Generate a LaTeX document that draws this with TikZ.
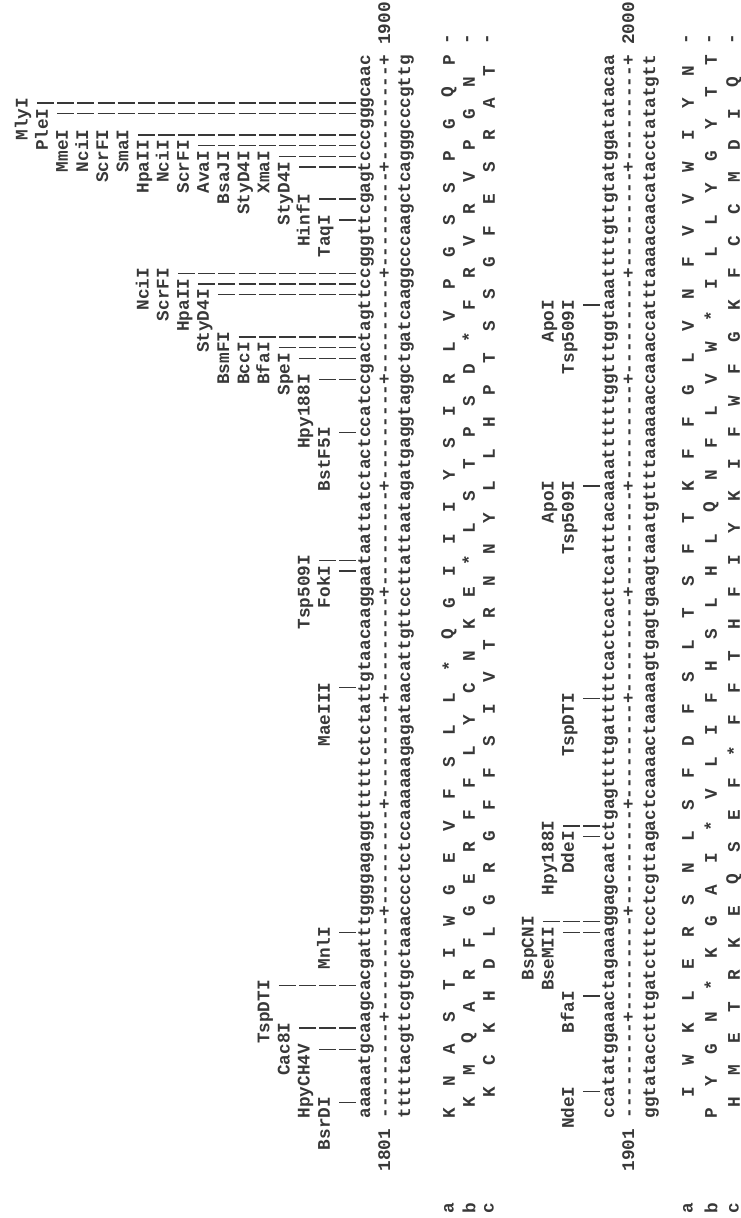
\documentclass[tikz,border=0pt]{standalone}
\usepackage{fontspec}
\newfontfamily\cour{Liberation Mono}[BoldFont={Liberation Mono Bold}]
\def\rdash{\hbox{-}}
\def\rseg{\rdash\rdash\rdash\rdash\rdash\rdash\rdash\rdash\rdash+}
\def\ruler{\rseg\rseg\rseg\rseg\rseg\rseg\rseg\rseg\rseg\rseg}
\begin{document}
\begin{tikzpicture}[x=1pt,y=1pt,
  txt/.style={font=\cour\bfseries\fontsize{17.72}{20}\selectfont, text=black!78, inner sep=0pt, outer sep=0pt, rotate=90},
  seq/.style={txt, anchor=mid west},
  lab/.style={txt, anchor=mid east},
  aa/.style={txt, anchor=center},
  bar/.style={draw=black!78, line width=1.4pt, dash pattern=on 17pt off 3.15pt}]
\useasboundingbox (0,0) rectangle (741,1218);
% ---------------- block 1 (1801-1900) ----------------
\node[seq] (s1top) at (368,{89.055+10.63}) {aaaaatgcaa%
gcacgatttg%
gggagaggtt%
ttttctctat%
tgtaacaagg%
aataattatc%
tactccatcc%
gactagttcc%
gggttcgagt%
cccgggcaac};
\node[seq] (s1rul) at (388,{89.055+10.63}) {\ruler};
\node[seq] (s1bot) at (408,{89.055+10.63}) {tttttacgtt%
cgtgctaaac%
ccctctccaa%
aaaagagata%
acattgttcc%
ttattaatag%
atgaggtagg%
ctgatcaagg%
cccaagctca%
gggcccgttg};
\node[lab] (n1801) at (388,{99.685-10.63}) {1801};
\node[seq] (n1900) at (388,{89.055+10.63*102}) {1900};
\node[aa] (fa1) at (449,{94.37-10.63*8}) {a};
\node[aa] (fb1) at (469,{94.37-10.63*8}) {b};
\node[aa] (fc1) at (489,{94.37-10.63*8}) {c};
\foreach \x [count=\i from 0] in {K,N,A,S,T,I,W,G,E,V,F,S,L,L,*,Q,G,I,I,I,Y,S,I,R,L,V,P,G,S,S,P,G,Q,P}
  \node[aa] (A1-\i) at (449,{94.37+10.63*(1+3*\i)}) {\x};
\foreach \x [count=\i from 0] in {K,M,Q,A,R,F,G,E,R,F,F,L,Y,C,N,K,E,*,L,S,T,P,S,D,*,F,R,V,R,V,P,G,N}
  \node[aa] (B1-\i) at (469,{94.37+10.63*(2+3*\i)}) {\x};
\foreach \x [count=\i from 0] in {K,C,K,H,D,L,G,R,G,F,F,S,I,V,T,R,N,N,Y,L,L,H,P,T,S,S,G,F,E,S,R,A,T}
  \node[aa] (C1-\i) at (489,{94.37+10.63*(3+3*\i)}) {\x};
\node[aa] (A1e) at (449,{94.37+10.63*102}) {-};
\node[aa] (B1e) at (469,{94.37+10.63*102}) {-};
\node[aa] (C1e) at (489,{94.37+10.63*102}) {-};
% enzymes block 1
\foreach \n/\c/\r in {BsrDI/2/2, HpyCH4V/7/3, Cac8I/9/4, TspDTI/13/5, MnlI/18/2, MaeIII/41/2,
   FokI/52/2, Tsp509I/53/3, BstF5I/65/2, Hpy188I/70/3, SpeI/72/4, BfaI/73/5, BccI/73/6,
   BsmFI/74/7, StyD4I/78/8, HpaII/79/9, ScrFI/80/10, NciI/80/11, TaqI/85/2, HinfI/87/3,
   StyD4I/90/4, XmaI/91/5, StyD4I/91/6, BsaJI/91/7, AvaI/91/8, ScrFI/92/9, NciI/92/10,
   HpaII/92/11, SmaI/93/12, ScrFI/93/13, NciI/93/14, MmeI/93/15, PleI/95/16, MlyI/96/17}
  \node[lab] (E1-\c-\r) at ({368-20.15*\r},{99.685+10.63*\c}) {\n};
\foreach \c/\r in {2/1, 7/2, 9/3, 13/4, 18/1, 41/1, 52/1, 53/2, 65/1, 70/2, 72/3, 73/4, 74/6,
   78/7, 79/8, 80/9, 85/1, 87/2, 90/3, 91/4, 92/8, 93/11, 95/15, 96/16}
  \draw[bar] ({368-20.15*\r-8.5},{94.37+10.63*\c}) coordinate (T1-\c) -- (356.35,{94.37+10.63*\c}) coordinate (U1-\c);
% ---------------- block 2 (1901-2000) ----------------
\node[seq] (s2top) at (612,{89.055+10.63}) {ccatatggaa%
actagaaagg%
agcaatctga%
gttttgattt%
ttcactcact%
tcatttacaa%
aattttttgg%
tttggtaaat%
tttgttgtat%
ggatatacaa};
\node[seq] (s2rul) at (632,{89.055+10.63}) {\ruler};
\node[seq] (s2bot) at (653,{89.055+10.63}) {ggtatacctt%
tgatctttcc%
tcgttagact%
caaaactaaa%
aagtgagtga%
agtaaatgtt%
ttaaaaaacc%
aaaccattta%
aaacaacata%
cctatatgtt};
\node[lab] (n1901) at (632,{99.685-10.63}) {1901};
\node[seq] (n2000) at (632,{89.055+10.63*102}) {2000};
\node[aa] (fa2) at (688,{94.37-10.63*8}) {a};
\node[aa] (fb2) at (711,{94.37-10.63*8}) {b};
\node[aa] (fc2) at (734,{94.37-10.63*8}) {c};
\foreach \x [count=\i from 0] in {I,W,K,L,E,R,S,N,L,S,F,D,F,S,L,T,S,F,T,K,F,F,G,L,V,N,F,V,V,W,I,Y,N}
  \node[aa] (A2-\i) at (688,{94.37+10.63*(3+3*\i)}) {\x};
\foreach \x [count=\i from 0] in {P,Y,G,N,*,K,G,A,I,*,V,L,I,F,H,S,L,H,L,Q,N,F,L,V,W,*,I,L,L,Y,G,Y,T,T}
  \node[aa] (B2-\i) at (711,{94.37+10.63*(1+3*\i)}) {\x};
\foreach \x [count=\i from 0] in {H,M,E,T,R,K,E,Q,S,E,F,*,F,F,T,H,F,I,Y,K,I,F,W,F,G,K,F,C,C,M,D,I,Q}
  \node[aa] (C2-\i) at (734,{94.37+10.63*(2+3*\i)}) {\x};
\node[aa] (A2e) at (688,{94.37+10.63*102}) {-};
\node[aa] (B2e) at (711,{94.37+10.63*102}) {-};
\node[aa] (C2e) at (734,{94.37+10.63*102}) {-};
% enzymes block 2
\foreach \n/\c/\r in {NdeI/3/2, BfaI/12/2, BseMII/18/3, BspCNI/19/4, DdeI/27/2, Hpy188I/28/3,
   TspDTI/40/2, Tsp509I/60/2, ApoI/60/3, Tsp509I/77/2, ApoI/77/3}
  \node[lab] (E2-\c-\r) at ({612-20.15*\r},{99.685+10.63*\c}) {\n};
\foreach \c/\r in {3/1, 12/1, 18/2, 19/3, 27/1, 28/2, 40/1, 60/1, 77/1}
  \draw[bar] ({612-20.15*\r-8.5},{94.37+10.63*\c}) coordinate (T2-\c) -- (600.35,{94.37+10.63*\c}) coordinate (U2-\c);
\end{tikzpicture}
\end{document}
